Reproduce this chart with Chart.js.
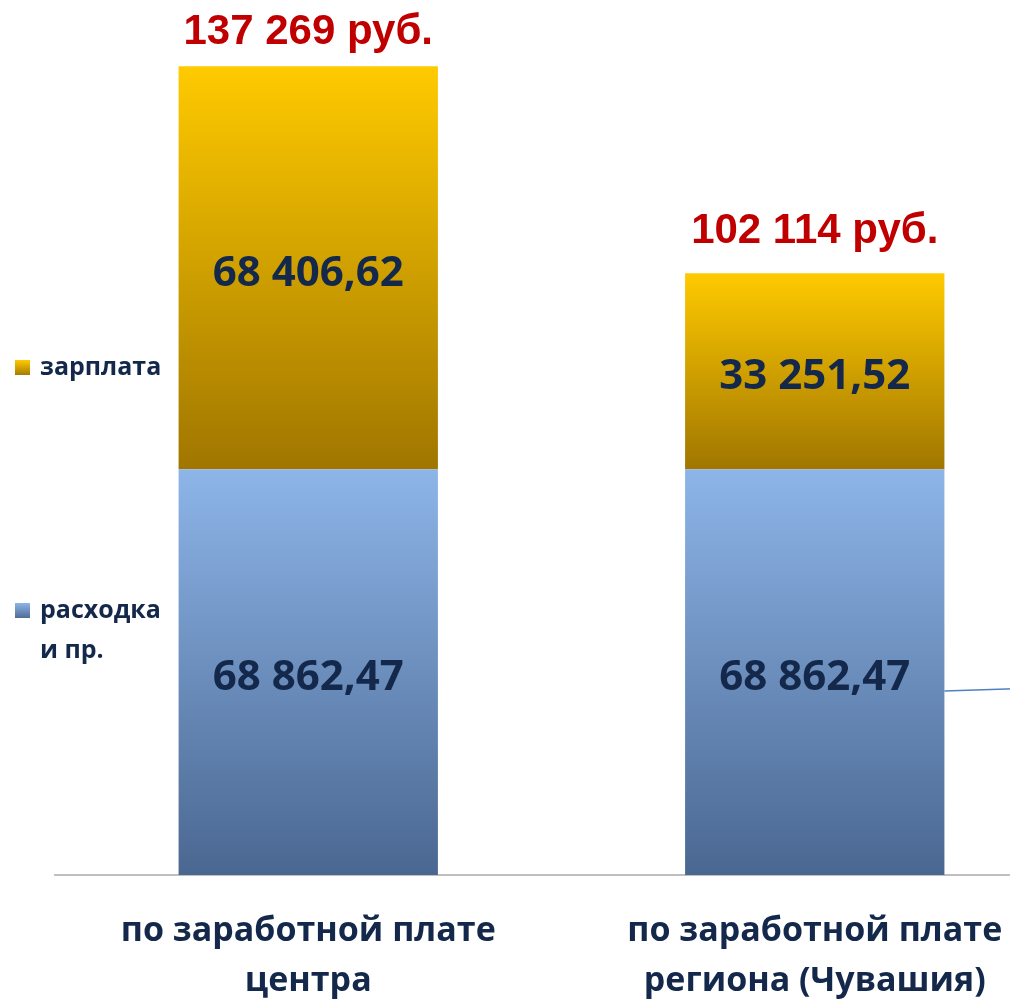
<!DOCTYPE html>
<html lang="ru">
<head>
  <meta charset="UTF-8" />
  <title>Зарплата и расходка</title>
  <script src="https://cdn.jsdelivr.net/npm/chart.js"></script>
  <style>
    body {
      margin: 0;
      background: #ffffff;
      overflow: hidden;
    }
    canvas {
      display: block;
    }
  </style>
</head>
<body>
  <canvas id="salaryChart" width="1068" height="1001"></canvas>

  <script>
    // categories and series
    const categories = [
      ['по заработной плате', 'центра'],
      ['по заработной плате', 'региона (Чувашия)']
    ];
    const seriesNames = ['расходка и пр.', 'зарплата'];
    const expenses = [68862.47, 68862.47];
    const salary = [68406.62, 33251.52];

    const navy = '#13284a';

    // blue / gold gradients going down each segment
    const gradStops = [
      ['#8db5e8', '#4a6791'],
      ['#ffca00', '#a07600']
    ];

    function fmtValue(v) {
      const s = v.toFixed(2).split('.');
      return s[0].replace(/\B(?=(\d{3})+(?!\d))/g, ' ') + ',' + s[1];
    }
    function fmtTotal(v) {
      return String(Math.round(v)).replace(/\B(?=(\d{3})+(?!\d))/g, ' ') + ' руб.';
    }

    function segmentFill(ctx) {
      const chart = ctx.chart;
      const y = chart.scales.y;
      const stops = gradStops[ctx.datasetIndex];
      if (!y || !chart.chartArea || ctx.dataIndex === undefined) return stops[0];
      const base = ctx.datasetIndex === 0 ? 0 : expenses[ctx.dataIndex];
      const val = ctx.datasetIndex === 0 ? expenses[ctx.dataIndex] : salary[ctx.dataIndex];
      const top = y.getPixelForValue(base + val);
      const bottom = y.getPixelForValue(base);
      const g = chart.ctx.createLinearGradient(0, top, 0, bottom);
      g.addColorStop(0, stops[0]);
      g.addColorStop(1, stops[1]);
      return g;
    }

    // value labels, totals, legend on the left
    const labelsPlugin = {
      id: 'labelsPlugin',
      afterDatasetsDraw(chart) {
        const c = chart.ctx;
        c.save();
        c.textAlign = 'center';
        c.textBaseline = 'middle';
        c.font = 'bold 42px "Open Sans"';
        c.fillStyle = navy;
        chart.data.datasets.forEach((ds, di) => {
          chart.getDatasetMeta(di).data.forEach((bar, i) => {
            c.fillText(fmtValue(ds.data[i]), bar.x, (bar.y + bar.base) / 2 + 6);
          });
        });

        // totals in red above the bars
        c.font = 'bold 42px "Liberation Sans"';
        c.fillStyle = '#c00000';
        c.textBaseline = 'alphabetic';
        chart.getDatasetMeta(1).data.forEach((bar, i) => {
          const total = expenses[i] + salary[i];
          c.fillText(fmtTotal(total), bar.x, Math.max(bar.y - 30, 44));
        });

        // thin leader line on the right
        const b2 = chart.getDatasetMeta(0).data[1];
        c.strokeStyle = '#4f81bd';
        c.lineWidth = 1.5;
        c.beginPath();
        c.moveTo(b2.x + b2.width / 2, (b2.y + b2.base) / 2 + 19);
        c.lineTo(chart.width, (b2.y + b2.base) / 2 + 15);
        c.stroke();

        // legend
        c.textAlign = 'left';
        c.textBaseline = 'middle';
        c.font = 'bold 25px "Open Sans"';
        const items = [
          { lines: ['зарплата'], ty: 368, stops: gradStops[1] },
          { lines: ['расходка', 'и пр.'], ty: 611, stops: gradStops[0] }
        ];
        items.forEach(it => {
          const g = c.createLinearGradient(0, it.ty - 8, 0, it.ty + 8);
          g.addColorStop(0, it.stops[0]);
          g.addColorStop(1, it.stops[1]);
          c.fillStyle = g;
          c.fillRect(15, it.ty - 8, 15, 15);
          c.fillStyle = navy;
          it.lines.forEach((ln, k) => c.fillText(ln, 40, it.ty + k * 40));
        });
        c.restore();
      }
    };

    new Chart(document.getElementById('salaryChart').getContext('2d'), {
      type: 'bar',
      data: {
        labels: categories,
        datasets: [
          {
            label: seriesNames[0],
            data: expenses,
            backgroundColor: segmentFill,
            borderWidth: 0,
            barPercentage: 1,
            categoryPercentage: 0.512
          },
          {
            label: seriesNames[1],
            data: salary,
            backgroundColor: segmentFill,
            borderWidth: 0,
            barPercentage: 1,
            categoryPercentage: 0.512
          }
        ]
      },
      options: {
        responsive: false,
        animation: false,
        layout: {
          padding: { left: 55, right: 0, top: 0, bottom: 0 }
        },
        plugins: {
          legend: { display: false },
          tooltip: { enabled: false }
        },
        scales: {
          x: {
            stacked: true,
            afterFit(scale) { scale.height = 126; },
            grid: { display: false, drawTicks: false },
            border: { display: true, color: '#bfbfbf', width: 2 },
            ticks: {
              color: navy,
              padding: 32,
              font: { family: 'Open Sans', size: 34, weight: 'bold', lineHeight: 1.45 }
            }
          },
          y: {
            stacked: true,
            display: false,
            min: 0,
            max: 148500
          }
        }
      },
      plugins: [labelsPlugin]
    });
  </script>
</body>
</html>
